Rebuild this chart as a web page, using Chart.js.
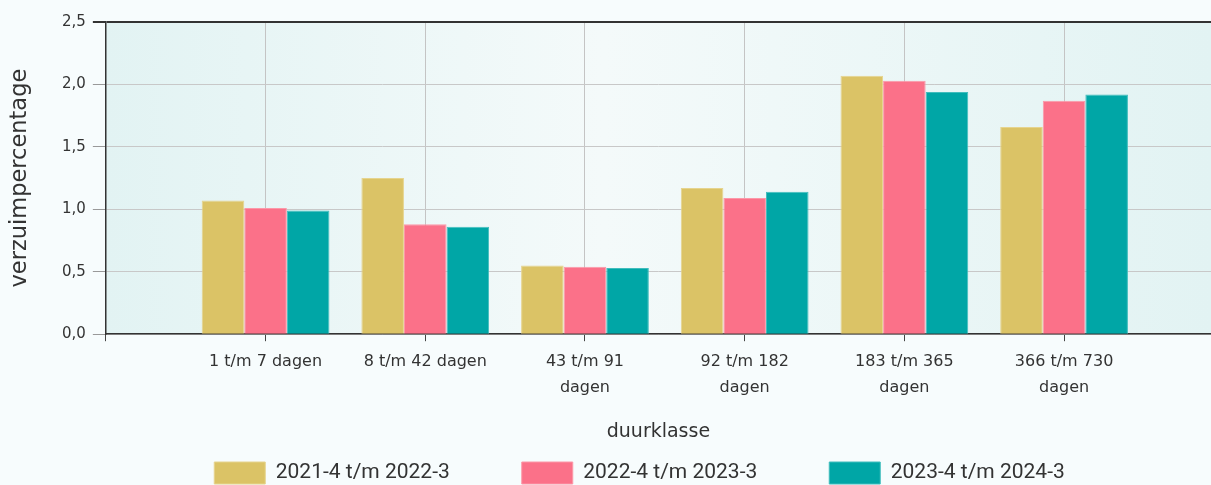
<!DOCTYPE html>
<html><head><meta charset="utf-8">
<script src="https://cdn.jsdelivr.net/npm/chart.js@4.4.1/dist/chart.umd.min.js"></script>
<style>html,body{margin:0;padding:0;background:#F7FCFD;overflow:hidden}#wrap{width:1211px;height:485px}</style>
</head><body><div id="wrap"><canvas id="c" width="1211" height="485"></canvas></div>
<script>
const categories = ["1 t/m 7 dagen", "8 t/m 42 dagen", "43 t/m 91 dagen", "92 t/m 182 dagen", "183 t/m 365 dagen", "366 t/m 730 dagen"];
const tickLabels = [["1 t/m 7 dagen"], ["8 t/m 42 dagen"], ["43 t/m 91", "dagen"], ["92 t/m 182", "dagen"], ["183 t/m 365", "dagen"], ["366 t/m 730", "dagen"]];
const seriesNames = ["2021-4 t/m 2022-3", "2022-4 t/m 2023-3", "2023-4 t/m 2024-3"];
const values2021 = [1.07, 1.25, 0.55, 1.17, 2.07, 1.66];
const values2022 = [1.01, 0.88, 0.54, 1.09, 2.03, 1.87];
const values2023 = [0.99, 0.86, 0.53, 1.14, 1.94, 1.92];
const yTicks = [0, 0.5, 1, 1.5, 2, 2.5];
const xTitle = "duurklasse";
const yTitle = "verzuimpercentage";

const fills = ["#DBC366", "#FB7189", "#00A6A6"];
const borders = ["#E6D48E", "#FC98A8", "#40BDBD"];
const FONT_AX = "'DejaVu Sans', sans-serif";
const FONT_LG = "Roboto, sans-serif";

const bgPlugin = {
  id: 'plotBg',
  beforeDraw(chart) {
    const a = chart.chartArea, ctx = chart.ctx;
    const g = ctx.createLinearGradient(a.left, 0, a.right, 0);
    g.addColorStop(0, '#E2F3F3');
    g.addColorStop(0.45, '#F4FAFA');
    g.addColorStop(1, '#E2F3F3');
    ctx.save();
    ctx.fillStyle = g;
    ctx.fillRect(a.left, a.top, a.right - a.left, a.bottom - a.top);
    ctx.restore();
  }
};

const LEG_H = 40, LEG_DY = 55, LEG_DX = 34;
const legendPatch = {
  id: 'legendPatch',
  beforeLayout(chart) {
    const lg = chart.legend;
    if (lg && !lg._patched) {
      lg._patched = true;
      const fit = lg.fit.bind(lg), draw = lg.draw.bind(lg);
      lg.fit = function () { fit(); this.height = LEG_H; };
      lg.draw = function () {
        const t = this.top, l = this.left, r = this.right;
        this.top = t - LEG_DY; this.left = l + LEG_DX; this.right = r + LEG_DX;
        draw();
        this.top = t; this.left = l; this.right = r;
      };
    }
  }
};

const seriesValues = [values2021, values2022, values2023];
const datasets = seriesNames.map((name, s) => ({
  label: name,
  data: categories.map((c, i) => ({ x: i + 1, y: seriesValues[s][i] })),
  backgroundColor: fills[s],
  borderColor: borders[s],
  borderWidth: 1,
  categoryPercentage: 0.8,
  barPercentage: 1.0
}));

new Chart(document.getElementById('c'), {
  type: 'bar',
  data: { datasets },
  plugins: [bgPlugin, legendPatch],
  options: {
    responsive: false,
    animation: false,
    devicePixelRatio: 1,
    layout: { padding: { top: 22, right: 0, left: 0, bottom: 0 } },
    plugins: {
      tooltip: { enabled: false },
      legend: {
        position: 'bottom',
        labels: {
          boxWidth: 51, boxHeight: 22, padding: 72,
          color: '#333', font: { family: FONT_LG, size: 21 }
        }
      }
    },
    scales: {
      x: {
        type: 'linear',
        offset: false,
        min: 0, max: 6.92,
        afterBuildTicks(scale) { scale.ticks = scale.ticks.filter(t => Number.isInteger(t.value)); },
        ticks: {
          stepSize: 1, autoSkip: false, maxRotation: 0, padding: 8,
          color: '#333', font: { family: FONT_AX, size: 16, lineHeight: 1.625 },
          callback: (v) => (Number.isInteger(v) && v >= 1 && v <= categories.length) ? tickLabels[v - 1] : ''
        },
        grid: { offset: false, color: '#C4C4C4', tickColor: '#444', tickLength: 7, lineWidth: 1 },
        border: { color: '#333', width: 1.5 },
        title: { display: true, text: xTitle, color: '#333', font: { family: FONT_AX, size: 19 }, padding: { top: 11, bottom: 2 } }
      },
      y: {
        min: 0, max: 2.5,
        afterBuildTicks(scale) { scale.ticks = yTicks.map(v => ({ value: v })); },
        ticks: {
          padding: 7, color: '#333', font: { family: FONT_AX, size: 15 },
          callback: (v) => v.toFixed(1).replace('.', ',')
        },
        grid: {
          color: (c) => c.tick && c.tick.value === 2.5 ? '#333' : '#C8C8C8',
          tickColor: (c) => c.tick && c.tick.value === 2.5 ? '#333' : '#999',
          lineWidth: (c) => c.tick && c.tick.value === 2.5 ? 2 : 1,
          tickLength: 13
        },
        border: { color: '#333', width: 1.5 },
        title: { display: true, text: yTitle, color: '#333', font: { family: FONT_AX, size: 22.5 }, padding: { top: 7, bottom: 21 } }
      }
    }
  }
});
</script>
</body></html>
